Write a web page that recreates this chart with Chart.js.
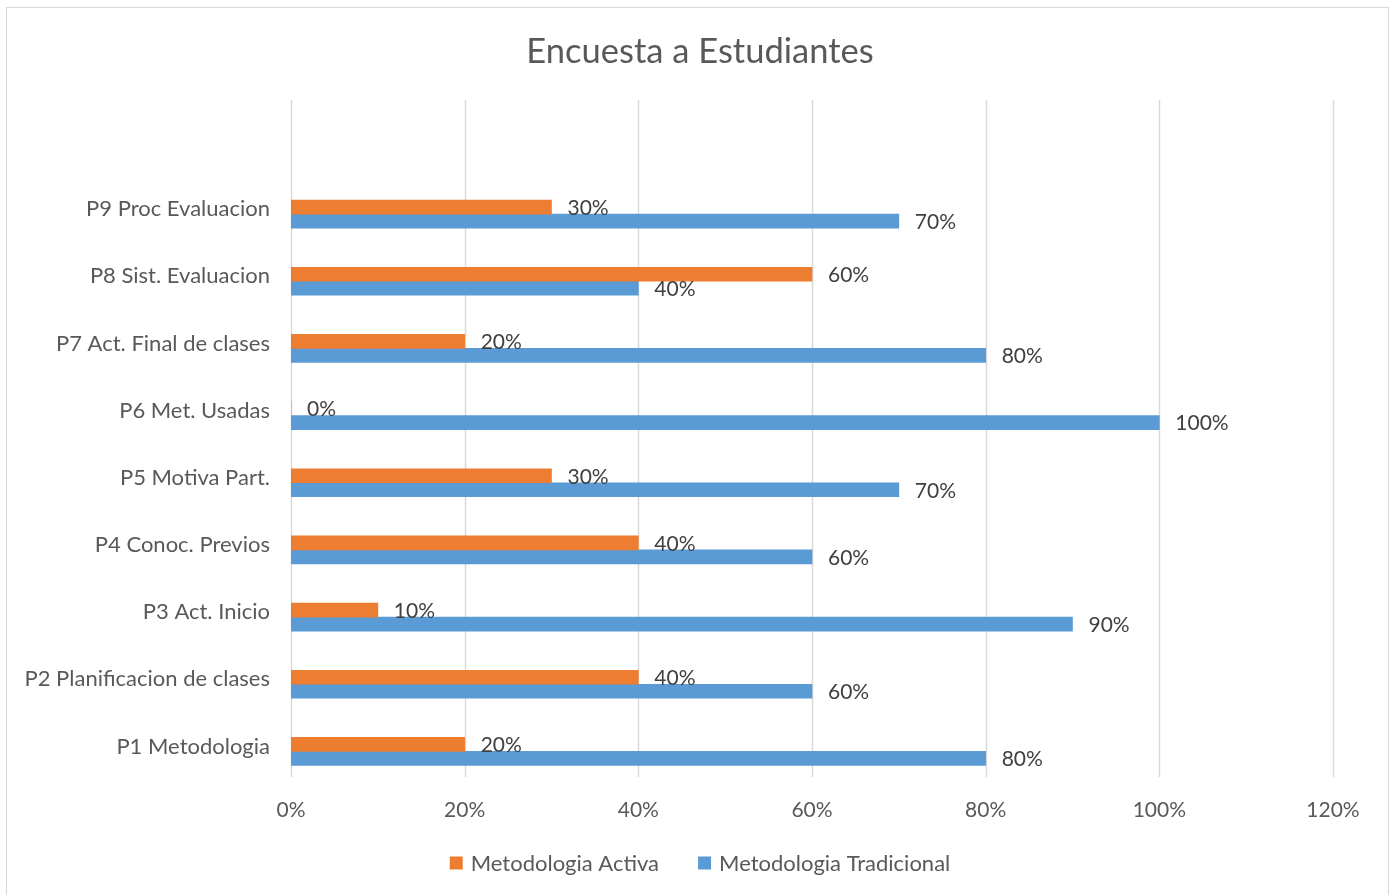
<!DOCTYPE html>
<html>
<head>
<meta charset="utf-8">
<title>Encuesta a Estudiantes</title>
<script src="https://cdn.jsdelivr.net/npm/chart.js@4.4.1/dist/chart.umd.min.js"></script>
<style>
  html, body { margin: 0; padding: 0; background: #fff; overflow: hidden; }
  #frame { position: absolute; left: 6px; top: 7px; width: 1381px; height: 900px; border: 1px solid #d9d9d9; pointer-events: none; }
  canvas { position: absolute; left: 0; top: 0; }
</style>
</head>
<body>
<canvas id="surveyChart" width="1395" height="895"></canvas>
<div id="frame"></div>
<script>
// preguntas, de P1 (abajo) a P9 (arriba)
const preguntas = [
    'P1 Metodologia', 'P2 Planificacion de clases', 'P3 Act. Inicio', 'P4 Conoc. Previos',
    'P5 Motiva Part.', 'P6 Met. Usadas', 'P7 Act. Final de clases', 'P8 Sist. Evaluacion',
    'P9 Proc Evaluacion'
];
const activa = [20, 40, 10, 40, 30, 0, 20, 60, 30];
const tradicional = [80, 60, 90, 60, 70, 100, 80, 40, 70];
const xTicks = [0, 20, 40, 60, 80, 100, 120];
const titulo = 'Encuesta a Estudiantes';

const FONT = 'Lato, "Open Sans", sans-serif';
const GREY = '#595959';

// percent labels at the end of each bar
const barLabels = {
    id: 'barLabels',
    afterDatasetsDraw(chart) {
        const ctx = chart.ctx;
        ctx.save();
        ctx.font = '21px ' + FONT;
        ctx.fillStyle = '#404040';
        ctx.textAlign = 'left';
        ctx.textBaseline = 'middle';
        chart.data.datasets.forEach((ds, i) => {
            chart.getDatasetMeta(i).data.forEach((bar, j) => {
                ctx.fillText(ds.data[j] + '%', bar.x + 16, bar.y + 1);
            });
        });
        ctx.restore();
    }
};

// vertical gridlines spanning the whole plot frame
const gridLines = {
    id: 'gridLines',
    beforeDatasetsDraw(chart) {
        const ctx = chart.ctx;
        const xs = chart.scales.x;
        ctx.save();
        ctx.strokeStyle = '#d9d9d9';
        ctx.lineWidth = 1.5;
        xTicks.forEach(v => {
            const px = Math.round(xs.getPixelForValue(v)) + 0.5;
            ctx.beginPath();
            ctx.moveTo(px, 100);
            ctx.lineTo(px, 777);
            ctx.stroke();
        });
        ctx.restore();
    }
};

// title and legend drawn by hand so they sit centred on the whole frame
const frameText = {
    id: 'frameText',
    afterDraw(chart) {
        const ctx = chart.ctx;
        ctx.save();
        ctx.fillStyle = GREY;
        ctx.textBaseline = 'middle';
        ctx.textAlign = 'center';
        ctx.font = '34.5px ' + FONT;
        ctx.fillText(titulo, 700, 52);

        const box = 13, gap = 8, space = 39, y = 863;
        ctx.font = '22px ' + FONT;
        ctx.textAlign = 'left';
        const items = chart.data.datasets.map(ds => ({
            text: ds.label, color: ds.backgroundColor, w: ctx.measureText(ds.label).width
        }));
        const total = items.reduce((s, it) => s + box + gap + it.w, 0) + space * (items.length - 1);
        let x = 700 - total / 2;
        items.forEach(it => {
            ctx.fillStyle = it.color;
            ctx.fillRect(x, y - box / 2, box, box);
            ctx.fillStyle = GREY;
            ctx.fillText(it.text, x + box + gap, y + 1);
            x += box + gap + it.w + space;
        });
        ctx.restore();
    }
};

const ctx = document.getElementById('surveyChart').getContext('2d');
const surveyChart = new Chart(ctx, {
    type: 'bar',
    data: {
        labels: preguntas,
        datasets: [{
            label: 'Metodologia Activa',
            data: activa,
            backgroundColor: '#ED7D31',
            barThickness: 14
        }, {
            label: 'Metodologia Tradicional',
            data: tradicional,
            backgroundColor: '#5B9BD5',
            barThickness: 14
        }]
    },
    options: {
        indexAxis: 'y',
        responsive: false,
        animation: false,
        devicePixelRatio: 1,
        layout: { padding: { left: 20, right: 62, top: 180.5, bottom: 70 } },
        scales: {
            x: {
                min: 0,
                max: 120,
                grid: { display: false, drawTicks: false },
                border: { display: false },
                afterBuildTicks(scale) {
                    scale.ticks = xTicks.map(v => ({ value: v }));
                },
                afterFit(scale) { scale.height = 40; },
                ticks: {
                    padding: 13,
                    color: GREY,
                    font: { family: FONT, size: 21 },
                    callback: v => v + '%'
                }
            },
            y: {
                reverse: true,
                grid: { display: false, drawTicks: false },
                border: { display: false },
                afterFit(scale) { scale.width = 271; },
                ticks: {
                    padding: 21,
                    labelOffset: -5,
                    color: GREY,
                    font: { family: FONT, size: 22 }
                }
            }
        },
        plugins: {
            title: { display: false },
            legend: { display: false },
            tooltip: { enabled: false }
        }
    },
    plugins: [gridLines, barLabels, frameText]
});
</script>
</body>
</html>
